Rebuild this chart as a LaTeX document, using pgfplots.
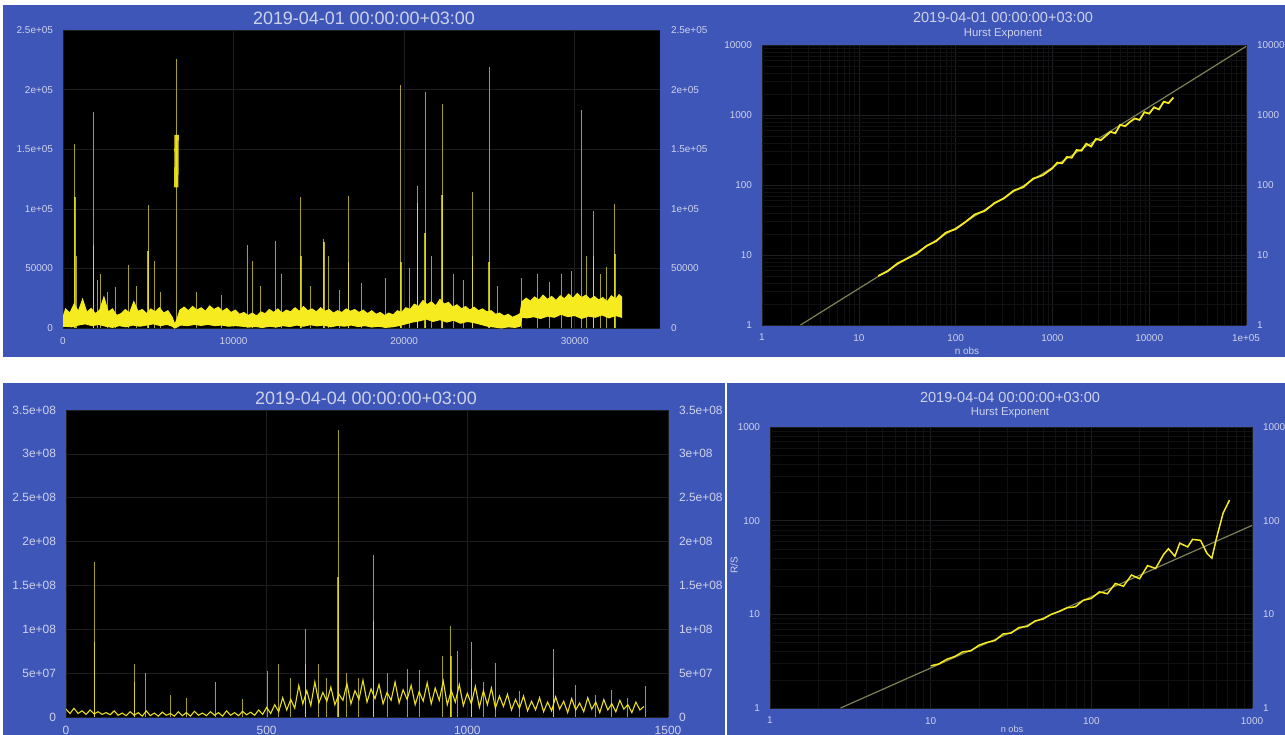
\documentclass[border=0pt]{standalone}
\usepackage{pgfplots}
\pgfplotsset{compat=1.18}
\usepackage{fontspec}
\setmainfont{Liberation Sans}
\definecolor{panel}{RGB}{62,86,184}
\definecolor{lbl}{RGB}{205,210,235}
\definecolor{grd}{RGB}{30,30,34}
\definecolor{mgrd}{RGB}{16,16,19}
\definecolor{yel}{RGB}{245,235,30}
\definecolor{spk}{RGB}{165,160,38}
\definecolor{fitc}{RGB}{125,130,85}
\pgfplotsset{
  dk/.style={scale only axis, anchor=south west,
    axis background/.style={fill=black},
    axis line style={draw=none}, tick style={draw=none},
    major tick length=0pt, minor tick length=0pt,
    scaled x ticks=false, scaled y ticks=false,
    grid=major, major grid style={draw=grd,line width=0.3pt},
    minor grid style={draw=mgrd,line width=0.25pt},
    tick label style={text=lbl,font=\fontsize{5}{6}\selectfont},
    yticklabel style={xshift=-1.5bp},
    xticklabel style={yshift=-1bp}},
  rt/.style={scale only axis, anchor=south west, hide x axis,
    axis y line*=right, axis line style={draw=none}, tick style={draw=none},
    major tick length=0pt, minor tick length=0pt,
    scaled x ticks=false, scaled y ticks=false,
    tick label style={text=lbl,font=\fontsize{5}{6}\selectfont},
    yticklabel style={xshift=2bp}},
}
\begin{document}
\begin{tikzpicture}
\useasboundingbox (0,0) rectangle (642.5bp,-367.5bp);
\fill[panel] (1.5bp,-2.5bp) rectangle (363bp,-178.5bp);
\fill[panel] (363bp,-2.5bp) rectangle (642.5bp,-178.5bp);
\fill[panel] (1.5bp,-191.5bp) rectangle (362.7bp,-367.5bp);
\fill[panel] (363.4bp,-191.5bp) rectangle (642.5bp,-367.5bp);

% ---------------- Panel 1 ----------------
\begin{axis}[dk, at={(31.5bp,-164bp)}, width=298.5bp, height=149bp,
  xmin=0, xmax=35000, ymin=0, ymax=250,
  xtick={0,10000,20000,30000}, xticklabels={0,10000,20000,30000},
  ytick={0,50,100,150,200,250},
  yticklabels={0,50000,1e+05,1.5e+05,2e+05,2.5e+05}]
\addplot[spk, ycomb, line width=0.5pt, mark=none] coordinates {
(690,154)(820,60)(1780,181)(2050,40)(2200,45)(2600,30)(3100,34)(3830,53)(4300,35)(4990,103)(5380,56)(5700,30)(6670,226)(7800,30)(9300,28)(10810,70)(11110,56)(11600,35)(12470,73)(12800,45)(13950,110)(14500,35)(15300,75)(15550,60)(16200,32)(16740,111)(17500,38)(18890,42)(19800,204)(20300,50)(20790,119)(21230,198)(21600,60)(22220,188)(22900,45)(23500,40)(24000,114)(24990,219)(25500,35)(26900,42)(27800,45)(28500,39)(29200,45)(29800,48)(30370,183)(30700,60)(31110,98)(31500,45)(31850,51)(32350,104)};
\addplot[yel, ycomb, line width=0.8pt, mark=none, opacity=0.75] coordinates {
(690,110)(1780,70)(4990,65)(13950,60)(15300,72)(16740,55)(19800,55)(20790,105)(21230,80)(22220,112)(24000,60)(24990,55)(31110,60)(32350,62)};
\addplot[yel, line width=2.2pt, mark=none, opacity=0.9] coordinates {(6635,118)(6642,128)(6655,138)(6650,150)(6662,162)};
\addplot[fill=yel, draw=yel, line width=0.5pt, mark=none] coordinates {
(0,9)(150,16)(400,12.5)(650,20)(900,14)(1150,24)(1400,13)(1650,16.5)(1900,12)(2150,15)(2400,26)(2650,13.5)(2900,16)(3150,10.5)(3400,12)(3650,15.5)(3900,12.5)(4150,22)(4400,14)(4650,15.5)(4900,12)(5150,16)(5400,13.5)(5650,17)(5900,12.5)(6150,14.5)(6400,9)(6550,3)(6700,8)(6850,15)(7100,17.5)(7350,14.5)(7600,18)(7850,15)(8100,17)(8350,14)(8600,18.5)(8850,15.5)(9100,17.5)(9350,14)(9600,16.5)(9850,13)(10100,15)(10350,11.5)(10600,13)(10850,10.5)(11100,12.5)(11350,10)(11600,13.5)(11850,12)(12100,15.5)(12350,13)(12600,16)(12850,12.5)(13100,15)(13350,13.5)(13600,17)(13850,14)(14100,18)(14350,14.5)(14600,16)(14850,13.5)(15100,17)(15350,14)(15600,15.5)(15850,12.5)(16100,14.5)(16350,13)(16600,16)(16850,14)(17100,15.5)(17350,13)(17600,15)(17850,12)(18100,14.5)(18350,11.5)(18600,13)(18850,10.5)(19100,12.5)(19350,11)(19600,14.5)(19850,13)(20100,17)(20350,15.5)(20600,20)(20850,18)(21100,23)(21350,19.5)(21600,22)(21850,18.5)(22100,24)(22350,20)(22600,21.5)(22850,17.5)(23100,19.5)(23350,16)(23600,18)(23850,15)(24100,17.5)(24350,14.5)(24600,16)(24850,13.5)(25100,14.5)(25350,11.5)(25600,12.5)(25850,10)(26100,11.5)(26350,9)(26600,10.5)(26800,12)(26900,22)(27150,25)(27400,22.5)(27650,26)(27900,23.5)(28150,27.5)(28400,24)(28650,26.5)(28900,23)(29150,27)(29400,24.5)(29650,28.5)(29900,25)(30150,29)(30400,25.5)(30650,27.5)(30900,24)(31150,26.5)(31400,23.5)(31650,25.5)(31900,22)(32150,27)(32400,24)(32600,28)(32750,26)
(32750,9)(32400,10.5)(32000,8.5)(31600,11)(31200,9)(30800,10)(30400,8)(30000,10.5)(29600,9.5)(29200,11.5)(28800,9)(28400,10)(28000,8)(27600,9.5)(27200,8.5)(26900,9)(26800,1.5)(26500,0.5)(26100,1)(25700,0)(25300,0.8)(24900,1.5)(24500,3)(24100,4.5)(23700,5.5)(23300,4)(22900,6.5)(22500,5)(22100,7)(21700,5.5)(21300,7.5)(20900,6)(20500,5)(20100,3.5)(19700,2)(19300,1)(18900,0.5)(18500,1.5)(18100,0.8)(17700,2)(17300,1.2)(16900,2.5)(16500,1.5)(16100,2.2)(15700,1)(15300,2.5)(14900,1.8)(14500,2.8)(14100,1.5)(13700,2.5)(13300,1.2)(12900,2)(12500,0.8)(12100,1.5)(11700,0.5)(11300,1.2)(10900,0.8)(10500,1.5)(10100,2)(9700,1.5)(9300,2.5)(8900,2)(8500,3)(8100,2.2)(7700,3)(7300,2)(6900,2.5)(6700,1)(6550,0)(6400,1.5)(6100,3)(5700,2)(5300,3.5)(4900,2.5)(4500,1.5)(4100,2.5)(3700,1)(3300,2)(2900,0.5)(2500,1.5)(2100,3)(1700,2)(1300,3.5)(900,2.5)(500,1)(0,1.5)} -- cycle;
\end{axis}
\begin{axis}[rt, at={(31.5bp,-164bp)}, width=298.5bp, height=149bp,
  xmin=0, xmax=35000, ymin=0, ymax=250,
  ytick={0,50,100,150,200,250},
  yticklabels={0,50000,1e+05,1.5e+05,2e+05,2.5e+05}]
\end{axis}
\node[text=lbl, font=\fontsize{9}{10}\selectfont] at (182bp,-9bp) {2019-04-01 00:00:00+03:00};

% ---------------- Panel 2 ----------------
\begin{axis}[dk, at={(381bp,-162.5bp)}, width=242bp, height=140bp,
  xmode=log, ymode=log, xmin=1, xmax=100000, ymin=1, ymax=10000,
  grid=both,
  xtick={1,10,100,1000,10000,100000}, xticklabels={1,10,100,1000,10000,1e+05},
  ytick={1,10,100,1000,10000}, yticklabels={1,10,100,1000,10000}]
\addplot[fitc, line width=0.6pt, mark=none] coordinates {(2.5,1)(100000,9550)};
\addplot[yel, line width=0.9pt, mark=none] table[x expr={10^(\thisrow{lx})}, y expr={10^(\thisrow{ly})}] {
lx ly
1.2 0.70
1.3 0.77
1.4 0.88
1.5 0.95
1.6 1.02
1.7 1.13
1.8 1.20
1.9 1.32
2.0 1.37
2.1 1.47
2.2 1.58
2.3 1.63
2.4 1.74
2.5 1.81
2.6 1.92
2.7 1.97
2.8 2.09
2.9 2.14
3.0 2.24
3.05 2.32
3.10 2.31
3.15 2.40
3.20 2.39
3.25 2.50
3.30 2.49
3.35 2.59
3.40 2.55
3.45 2.66
3.50 2.64
3.55 2.70
3.60 2.76
3.65 2.74
3.70 2.86
3.75 2.84
3.80 2.90
3.85 2.95
3.90 2.93
3.95 3.04
4.00 3.02
4.05 3.11
4.10 3.08
4.15 3.19
4.20 3.17
4.25 3.25
};
\end{axis}
\begin{axis}[rt, at={(381bp,-162.5bp)}, width=242bp, height=140bp,
  xmode=log, ymode=log, xmin=1, xmax=100000, ymin=1, ymax=10000,
  ytick={1,10,100,1000,10000}, yticklabels={1,10,100,1000,10000}]
\end{axis}
\node[text=lbl, font=\fontsize{7.3}{8}\selectfont] at (501.5bp,-8.5bp) {2019-04-01 00:00:00+03:00};
\node[text=lbl, font=\fontsize{5.7}{6.5}\selectfont] at (501.5bp,-17bp) {Hurst Exponent};
\node[text=lbl, font=\fontsize{5}{6}\selectfont] at (483.5bp,-175.5bp) {n obs};

% ---------------- Panel 3 ----------------
\begin{axis}[dk, at={(33bp,-358.5bp)}, width=301bp, height=153.5bp,
  xmin=0, xmax=1500, ymin=0, ymax=350,
  tick label style={font=\fontsize{6}{7}\selectfont},
  xtick={0,500,1000,1500}, xticklabels={0,500,1000,1500},
  ytick={0,50,100,150,200,250,300,350},
  yticklabels={0,5e+07,1e+08,1.5e+08,2e+08,2.5e+08,3e+08,3.5e+08}]
\addplot[spk, ycomb, line width=0.5pt, mark=none] coordinates {
(71,177)(170,60)(199,50)(260,25)(300,22)(372,40)(440,20)(501,52)(530,60)(560,45)(596,100)(628,61)(650,45)(678,327)(700,50)(730,45)(766,185)(800,50)(850,55)(881,54)(939,69)(959,104)(975,75)(1010,85)(1040,40)(1071,62)(1130,30)(1215,77)(1270,37)(1320,25)(1359,31)(1400,22)(1443,35)};
\addplot[yel, ycomb, line width=0.7pt, mark=none, opacity=0.7] coordinates {
(71,86)(170,40)(596,60)(678,160)(766,110)(959,70)(1010,55)(1215,45)};
\addplot[yel, line width=0.55pt, mark=none, opacity=0.95] coordinates {
(0,9)(10,4)(20,10)(30,4)(40,7)(50,3)(60,8)(70,3.5)(80,6)(90,3)(100,5)(110,2.5)(120,7)(130,2)(140,4.5)(150,1.5)(160,6)(170,2)(180,5)(190,1)(200,7)(210,1.5)(220,4.5)(230,1)(240,5.5)(250,2)(260,4)(270,1)(280,6)(290,1.5)(300,5)(310,1)(320,6.5)(330,2)(340,4.5)(350,1.5)(360,6)(370,2)(380,5)(390,1)(400,7)(410,2)(420,5)(430,1.5)(440,6.5)(450,2.5)(460,5.5)(470,2)(480,8)(490,3)(500,11)(510,4)(520,14)(530,6)(540,22)(550,8)(560,20)(570,10)(580,36)(590,15)(600,30)(610,13)(620,40)(630,16)(640,28)(650,18)(660,34)(670,14)(680,26)(690,19)(700,38)(710,15)(720,30)(730,20)(740,42)(750,17)(760,32)(770,21)(780,37)(790,15)(800,28)(810,19)(820,40)(830,16)(840,31)(850,20)(860,36)(870,14)(880,29)(890,18)(900,39)(910,15)(920,33)(930,19)(940,41)(950,14)(960,30)(970,17)(980,37)(990,13)(1000,27)(1010,15)(1020,35)(1030,11)(1040,30)(1050,14)(1060,33)(1070,10)(1080,24)(1090,12)(1100,26)(1110,8)(1120,20)(1130,10)(1140,24)(1150,7)(1160,18)(1170,8)(1180,22)(1190,6)(1200,17)(1210,7)(1220,23)(1230,9)(1240,18)(1250,5)(1260,21)(1270,8)(1280,16)(1290,6)(1300,22)(1310,9)(1320,17)(1330,5)(1340,20)(1350,8)(1360,15)(1370,6)(1380,19)(1390,9)(1400,14)(1410,5)(1420,17)(1430,8)(1440,12)};
\end{axis}
\begin{axis}[rt, at={(33bp,-358.5bp)}, width=301bp, height=153.5bp,
  xmin=0, xmax=1500, ymin=0, ymax=350,
  tick label style={font=\fontsize{6}{7}\selectfont},
  ytick={0,50,100,150,200,250,300,350},
  yticklabels={0,5e+07,1e+08,1.5e+08,2e+08,2.5e+08,3e+08,3.5e+08}]
\end{axis}
\node[text=lbl, font=\fontsize{9}{10}\selectfont] at (183bp,-199bp) {2019-04-04 00:00:00+03:00};

% ---------------- Panel 4 ----------------
\begin{axis}[dk, at={(385bp,-354bp)}, width=241bp, height=140.5bp,
  xmode=log, ymode=log, xmin=1, xmax=1000, ymin=1, ymax=1000,
  grid=both,
  xtick={1,10,100,1000}, xticklabels={1,10,100,1000},
  ytick={1,10,100,1000}, yticklabels={1,10,100,1000}]
\addplot[fitc, line width=0.6pt, mark=none] coordinates {(2.75,1)(1000,89)};
\addplot[yel, line width=0.75pt, mark=none] table[x expr={10^(\thisrow{lx})}, y expr={10^(\thisrow{ly})}] {
lx ly
1.00 0.45
1.05 0.47
1.10 0.52
1.15 0.55
1.20 0.60
1.25 0.61
1.30 0.67
1.35 0.70
1.40 0.72
1.45 0.79
1.50 0.80
1.55 0.86
1.60 0.87
1.65 0.93
1.70 0.95
1.75 1.00
1.80 1.03
1.85 1.07
1.90 1.08
1.95 1.15
2.00 1.17
2.05 1.24
2.10 1.22
2.15 1.33
2.20 1.30
2.25 1.42
2.30 1.38
2.35 1.52
2.40 1.49
2.45 1.64
2.48 1.70
2.52 1.62
2.55 1.76
2.60 1.72
2.63 1.80
2.68 1.79
2.72 1.65
2.75 1.60
2.78 1.82
2.82 2.08
2.86 2.22
};
\end{axis}
\begin{axis}[rt, at={(385bp,-354bp)}, width=241bp, height=140.5bp,
  xmode=log, ymode=log, xmin=1, xmax=1000, ymin=1, ymax=1000,
  ytick={1,10,100,1000}, yticklabels={1,10,100,1000}]
\end{axis}
\node[text=lbl, font=\fontsize{7.3}{8}\selectfont] at (505bp,-198.5bp) {2019-04-04 00:00:00+03:00};
\node[text=lbl, font=\fontsize{5.7}{6.5}\selectfont] at (505bp,-206.5bp) {Hurst Exponent};
\node[text=lbl, font=\fontsize{4.6}{5}\selectfont] at (506bp,-364.6bp) {n obs};
\node[text=lbl, font=\fontsize{5}{6}\selectfont, rotate=90] at (367bp,-282.5bp) {R/S};
\end{tikzpicture}
\end{document}
